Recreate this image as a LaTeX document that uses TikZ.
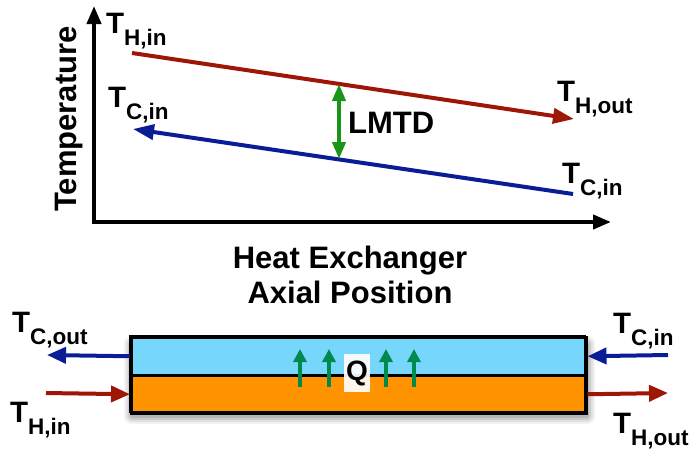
\documentclass[tikz,border=0pt]{standalone}
\usepackage{fontspec}
\setmainfont{Liberation Sans}
\usetikzlibrary{arrows.meta}
\definecolor{hotred}{RGB}{158,22,6}
\definecolor{coldblue}{RGB}{10,28,150}
\definecolor{lmtdgreen}{RGB}{25,150,25}
\definecolor{qgreen}{RGB}{0,138,78}
\definecolor{coldfill}{RGB}{118,214,252}
\definecolor{hotfill}{RGB}{255,148,0}
\newcommand{\Tlab}[1]{\fontsize{29.5}{29.5}\selectfont\bfseries T\raisebox{-12pt}{\fontsize{22.5}{22.5}\selectfont #1}}
\tikzset{
  tlabel/.style={inner sep=0pt, anchor=base west},
  bigtext/.style={inner sep=0pt, font=\fontsize{31}{31}\selectfont\bfseries},
  axis/.style={line width=4pt, -{Triangle[length=18pt,width=14pt]}},
  flowhot/.style={draw=hotred, line width=4pt, -{Triangle[length=21pt,width=15pt]}},
  flowcold/.style={draw=coldblue, line width=4pt, -{Triangle[length=21pt,width=15pt]}},
  pipehot/.style={draw=hotred, line width=4pt, -{Triangle[length=19pt,width=16pt]}},
  pipecold/.style={draw=coldblue, line width=4pt, -{Triangle[length=19pt,width=16pt]}},
  lmtd/.style={draw=lmtdgreen, line width=4pt, {Triangle[length=17pt,width=13pt]}-{Triangle[length=17pt,width=13pt]}},
  qarrow/.style={draw=qgreen, line width=4pt, -{Triangle[length=13pt,width=13pt]}},
  layer/.style={draw=black, line width=2.5pt, minimum width=455pt, minimum height=38pt, inner sep=0pt, anchor=north west}
}
\begin{document}
\begin{tikzpicture}[x=1pt,y=-1pt]
\useasboundingbox (0,0) rectangle (700,458);
% axes
\coordinate (origin) at (94,222);
\coordinate (ytip) at (94,6);
\coordinate (xtip) at (611,222);
\draw[axis] (origin) -- (ytip);
\draw[axis] ([xshift=-2pt]origin) -- (xtip);
% graph lines
\coordinate (h1) at (132,53);
\coordinate (h2) at (574,119);
\coordinate (c1) at (573,194);
\coordinate (c2) at (133,129);
\draw[flowhot] (h1) -- (h2);
\draw[flowcold] (c1) -- (c2);
\coordinate (l1) at (339,84);
\coordinate (l2) at (339,159);
\draw[lmtd] (l1) -- (l2);
\node[bigtext, anchor=base west] (lmtdlab) at (348,133) {LMTD};
% graph labels
\node[tlabel] (thin) at (106,33) {\Tlab{H,in}};
\node[tlabel] (tcinl) at (108,107) {\Tlab{C,in}};
\node[tlabel] (thout) at (557,101) {\Tlab{H,out}};
\node[tlabel] (tcinr) at (562,183) {\Tlab{C,in}};
\node[bigtext, rotate=90, anchor=base] (temp) at (76,119) {Temperature};
\node[bigtext, anchor=base] (hx1) at (350,268) {Heat Exchanger};
\node[bigtext, anchor=base] (hx2) at (350,303) {Axial Position};
% shadow
\foreach \s/\o in {8/0.05,6/0.07,4/0.09,2/0.11}{
  \fill[black, opacity=\o, rounded corners=\s pt] (130-\s+2,336-\s+8) rectangle (585+\s+2,412+\s+4);
}
% exchanger
\node[layer, fill=coldfill] (cold) at (130,336) {};
\node[layer, fill=hotfill] (hot) at (130,374) {};
\draw[black, line width=2.5pt] (130,336) rectangle (585,412);
% Q arrows
\foreach \x [count=\i] in {300,329,386,414}{
  \coordinate (qa\i) at (\x,387);
  \coordinate (qb\i) at (\x,349);
  \draw[qarrow] (qa\i) -- (qb\i);
}
\node[fill=white, fill opacity=0.92, text opacity=1, minimum width=26pt, minimum height=38pt, inner sep=0pt, font=\fontsize{28}{28}\selectfont\bfseries] (q) at (357,373) {Q};
% flows
\coordinate (coldout) at (47,355);
\coordinate (hotin) at (46,393);
\coordinate (coldin) at (668,355);
\coordinate (hotout) at (668,393);
\draw[pipecold] (cold.west) -- (coldout);
\draw[pipehot] (hotin) -- (hot.west);
\draw[pipecold] (coldin) -- (cold.east);
\draw[pipehot] (hot.east) -- (hotout);
% flow labels
\node[tlabel] (tcout) at (12,332) {\Tlab{C,out}};
\node[tlabel] (thinb) at (10,422) {\Tlab{H,in}};
\node[tlabel] (tcinb) at (613,333) {\Tlab{C,in}};
\node[tlabel] (thoutb) at (613,433) {\Tlab{H,out}};
\end{tikzpicture}
\end{document}
